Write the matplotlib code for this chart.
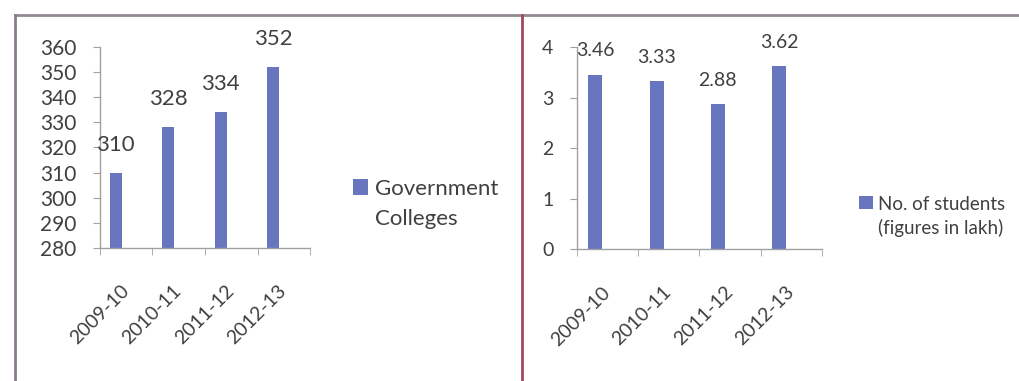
import matplotlib.pyplot as plt
import numpy as np
from matplotlib.lines import Line2D

plt.rcParams['font.family'] = ['Lato', 'DejaVu Sans']

years = ['2009-10', '2010-11', '2011-12', '2012-13']
colleges = [310, 328, 334, 352]
students = [3.46, 3.33, 2.88, 3.62]

bar_color = '#6876c0'
axis_color = '#a0a0a0'
text_color = '#404040'

fig = plt.figure(figsize=(10.2, 3.81), dpi=100)

# panel borders (gray top/left, red divider)
fig.add_artist(Line2D([0.0147, 1.0], [0.961, 0.961], color='#948a94', lw=2))
fig.add_artist(Line2D([0.0147, 0.0147], [0.0, 0.961], color='#8a7c8c', lw=2))
fig.add_artist(Line2D([0.5118, 0.5118], [0.0, 0.961], color='#a04858', lw=2))


def style_axes(ax, ysize):
    for s in ['top', 'right']:
        ax.spines[s].set_visible(False)
    for s in ['left', 'bottom']:
        ax.spines[s].set_color(axis_color)
        ax.spines[s].set_linewidth(1)
    ax.set_xlim(-0.5, 3.5)
    ax.set_xticks(range(len(years)))
    ax.set_xticklabels(years, rotation=45, ha='right', va='center',
                       rotation_mode='anchor', fontsize=14, color=text_color)
    ax.set_xticks(np.arange(-0.5, 4, 1), minor=True)
    ax.tick_params(axis='x', which='major', length=0, pad=29)
    ax.tick_params(axis='x', which='minor', length=5, color=axis_color)
    ax.tick_params(axis='y', length=5, color=axis_color, labelcolor=text_color,
                   labelsize=ysize, pad=12)


def top_align(leg, spacing):
    # put the legend square next to the first line of a two-line label
    for t in leg.get_texts():
        t.set_linespacing(spacing)
    for col in leg._legend_handle_box.get_children():
        for row in col.get_children():
            row.align = 'top'


x = np.arange(len(years)) - 0.2

# left: government colleges
ax1 = fig.add_axes([0.098, 0.349, 0.206, 0.528])
b1 = ax1.bar(x, np.array(colleges) - 280, bottom=280, width=0.23,
             color=bar_color, label='Government\nColleges')
ax1.set_ylim(280, 360)
ax1.set_yticks(range(280, 361, 10))
style_axes(ax1, 15)
for xi, v in zip(x, colleges):
    ax1.annotate(str(v), (xi, v), xytext=(0, 13), textcoords='offset points',
                 ha='center', va='bottom', fontsize=16, color=text_color)
leg1 = ax1.legend(handles=[b1], loc='upper left', bbox_to_anchor=(0.326, 0.582),
                  bbox_transform=fig.transFigure, frameon=False, fontsize=16,
                  handlelength=0.7, handleheight=0.7, handletextpad=0.3,
                  labelcolor=text_color)
top_align(leg1, 1.6)

# right: number of students
ax2 = fig.add_axes([0.5657, 0.346, 0.240, 0.530])
b2 = ax2.bar(x, students, width=0.23, color=bar_color,
             label='No. of students\n(figures in lakh)')
ax2.set_ylim(0, 4)
ax2.set_yticks(range(0, 5))
style_axes(ax2, 14)
for xi, v in zip(x, students):
    ax2.annotate('%.2f' % v, (xi, v), xytext=(0, 11), textcoords='offset points',
                 ha='center', va='bottom', fontsize=14, color=text_color)
leg2 = ax2.legend(handles=[b2], loc='upper left', bbox_to_anchor=(0.826, 0.53),
                  bbox_transform=fig.transFigure, frameon=False, fontsize=13.5,
                  handlelength=0.7, handleheight=0.7, handletextpad=0.3,
                  labelcolor=text_color)
top_align(leg2, 1.4)

fig.savefig('out.png', dpi=100)
